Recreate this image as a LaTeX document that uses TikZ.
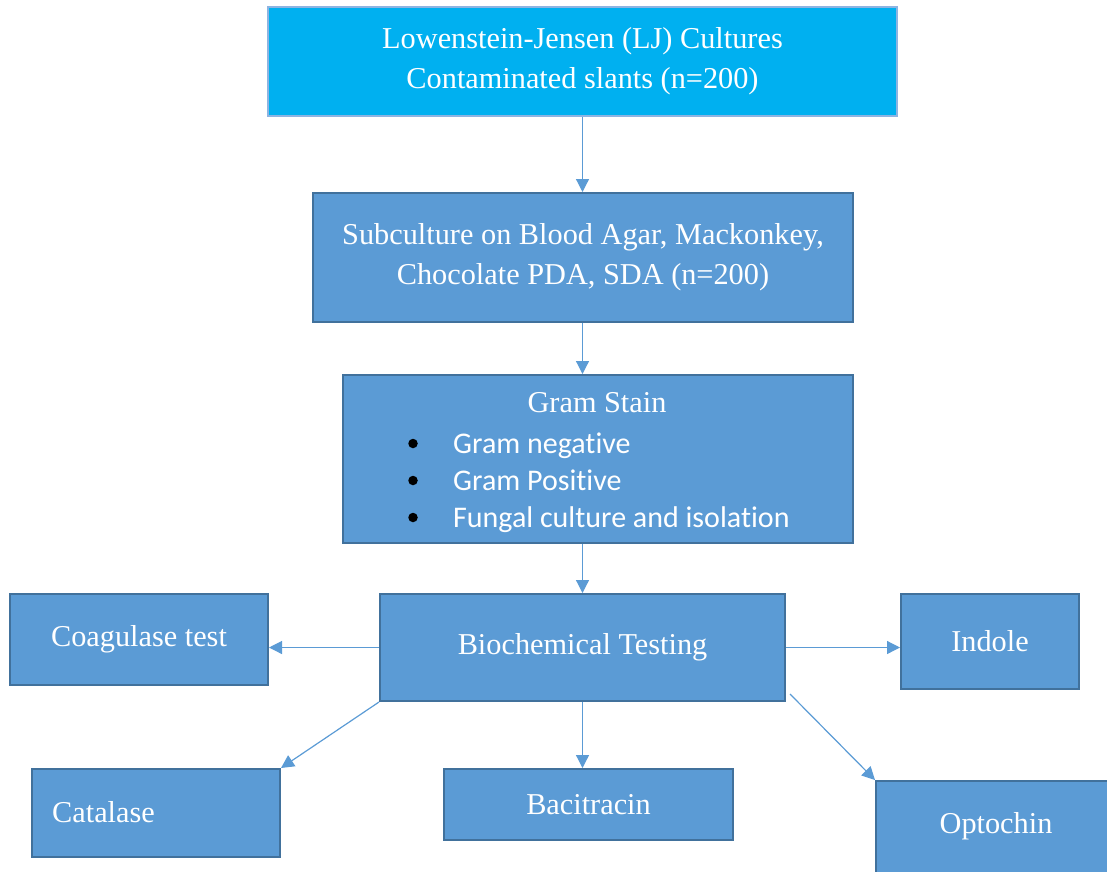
\documentclass[tikz,border=0pt]{standalone}
\usepackage{fontspec}
\setmainfont{Liberation Serif}
\newfontfamily\calib[RawFeature={-liga;-dlig;-clig}]{Carlito}
\usetikzlibrary{arrows.meta}
\definecolor{cyanfill}{HTML}{00B0F0}
\definecolor{topline}{HTML}{8DB4E2}
\definecolor{boxfill}{HTML}{5B9BD5}
\definecolor{boxline}{HTML}{41719C}
\begin{document}
\begin{tikzpicture}[x=1pt,y=-1pt,
  box/.style={draw=boxline, line width=2pt, fill=boxfill, text=white,
    font=\fontsize{30.3}{40}\selectfont, align=center, inner sep=0pt},
  topbox/.style={box, draw=topline, line width=1.5pt, fill=cyanfill},
  lbl/.style={text=white, font=\fontsize{30.3}{40}\selectfont, inner sep=0pt},
  sans/.style={text=white, font=\calib\fontsize{30}{36}\selectfont, inner sep=0pt, anchor=base west},
  bul/.style={circle, fill=black, minimum size=9.5pt, inner sep=0pt},
  arr/.style={draw=boxfill, line width=1.2pt, -{Triangle[length=13pt,width=13pt]}}]
\useasboundingbox (0,0) rectangle (1107,871);

\node[topbox, minimum width=629pt, minimum height=109pt] (top) at (582.5,61.5)
  {Lowenstein-Jensen (LJ) Cultures\\Contaminated slants (n=200)};
\node[box, minimum width=540pt, minimum height=129pt] (sub) at (583,257.5)
  {Subculture on Blood Agar, Mackonkey,\\Chocolate PDA, SDA (n=200)};
\node[box, minimum width=510pt, minimum height=168pt] (gram) at (598,459) {};
\node[lbl, anchor=base] (gramT) at (597,412) {Gram Stain};
\node[bul] (b1) at (413,443.5) {};
\node[bul] (b2) at (413,480.5) {};
\node[bul] (b3) at (413,517.5) {};
\node[sans] (g1) at (453,453) {Gram negative};
\node[sans] (g2) at (453,490) {Gram Positive};
\node[sans] (g3) at (453,527) {Fungal culture and isolation};

\node[box, minimum width=405pt, minimum height=107pt] (bio) at (582.5,647.5) {Biochemical Testing};
\node[box, minimum width=258pt, minimum height=91pt] (coag) at (139,639.5) {Coagulase test};
\node[box, minimum width=178pt, minimum height=95pt] (indole) at (990,641.5) {Indole};
\node[box, minimum width=248pt, minimum height=88pt] (cat) at (156,813) {};
\node[lbl, anchor=west] (catT) at (52,812) {Catalase};
\node[box, minimum width=289pt, minimum height=71pt] (bac) at (588.5,804.5) {Bacitracin};
\node[box, minimum width=236pt, minimum height=94pt] (opt) at (994,828) {};
\node[lbl] (optT) at (996,826) {Optochin};

\draw[arr] (top.south) -- (top.south |- sub.north);
\draw[arr] (top.south |- sub.south) -- (top.south |- gram.north);
\draw[arr] (top.south |- gram.south) -- (top.south |- bio.north);
\draw[arr] (bio.west) -- (bio.west -| coag.east);
\draw[arr] (bio.east) -- (bio.east -| indole.west);
\draw[arr] (bio.south west) -- (cat.north east);
\draw[arr] (bio.south) -- (bio.south |- bac.north);
\draw[arr] ([xshift=4pt,yshift=8pt]bio.south east) -- (opt.north west);
\end{tikzpicture}
\end{document}
